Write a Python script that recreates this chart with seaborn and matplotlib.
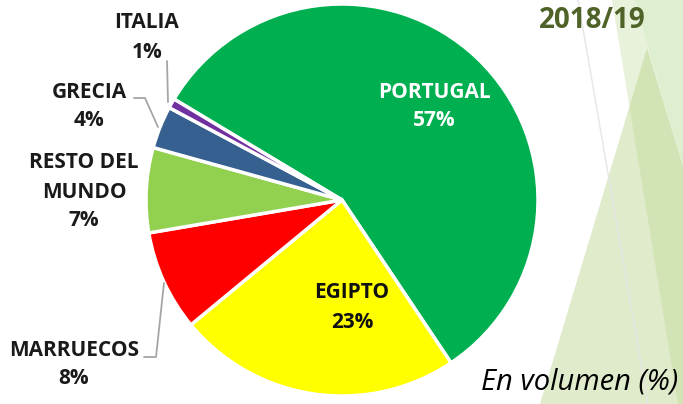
import seaborn as sns
import matplotlib.pyplot as plt
from matplotlib.patches import Polygon

# data (volume share, %)
countries = ["PORTUGAL", "EGIPTO", "MARRUECOS", "RESTO DEL\nMUNDO", "GRECIA", "ITALIA"]
shares = [57.0, 23.4, 8.3, 7.0, 3.5, 0.8]
colors = ["#00B050", "#FFFF00", "#FF0000", "#92D050", "#35608F", "#7030A0"]

sns.set_theme(style="white")
plt.rcParams["font.family"] = ["Open Sans", "DejaVu Sans"]

W, H = 683, 404
fig = plt.figure(figsize=(W / 100, H / 100), dpi=100)
fig.patch.set_facecolor("white")


def fxy(x, y):
    return (x / W, 1 - y / H)


# decorative facets on the right
bg = [
    ([(612, 0), (683, 0), (683, 404), (678, 404)], "#b4d48a", 0.30),
    ([(635, 0), (683, 0), (683, 167)], "#c4eab4", 0.30),
    ([(647, 48), (540, 404), (683, 404), (683, 167)], "#b3cf7e", 0.40),
]
for pts, c, a in bg:
    fig.patches.append(Polygon([fxy(*p) for p in pts], closed=True, transform=fig.transFigure,
                               facecolor=c, edgecolor="none", alpha=a, zorder=-2))
fig.lines.append(plt.Line2D([578 / W, 648 / W], [1, 1 - 404 / H], transform=fig.transFigure,
                            color="#e6e6e6", lw=1, zorder=-1))

# pie centred at (342, 200) px, radius 196 px
cx, cy, r = 342, 200, 196
ax = fig.add_axes([(cx - r) / W, 1 - (cy + r) / H, 2 * r / W, 2 * r / H])
wedges, _ = ax.pie(shares, colors=sns.color_palette(colors), startangle=149, counterclock=False,
                   wedgeprops=dict(edgecolor="white", linewidth=2.5))
ax.set_xlim(-1, 1)
ax.set_ylim(-1, 1)
ax.axis("off")


def dxy(x, y):
    return ((x - cx) / r, (cy - y) / r)


# label layout: centre x and first-line y in px, text colour
label_pos = {
    "PORTUGAL": (434, 92, "white"),
    "EGIPTO": (352, 293, "#111111"),
    "MARRUECOS": (74, 350, "#1a1a1a"),
    "RESTO DEL\nMUNDO": (84, 163, "#1a1a1a"),
    "GRECIA": (89, 92, "#1a1a1a"),
    "ITALIA": (147, 23, "#1a1a1a"),
}
for name, v in zip(countries, shares):
    x, y, c = label_pos[name]
    lines = name.split("\n") + [f"{round(v)}%"]
    for i, ln in enumerate(lines):
        ax.text(*dxy(x, y + i * 29), ln, ha="center", va="center", fontsize=15,
                fontweight="bold", color=c, clip_on=False)

leaders = [
    [(167, 61), (168, 102)],
    [(134, 98), (145, 98), (158, 127)],
    [(144, 357), (156, 357), (164, 283)],
]
for pts in leaders:
    xs, ys = zip(*[dxy(*p) for p in pts])
    ax.plot(xs, ys, color="#a6a6a6", lw=1.3, clip_on=False)

fig.text(*fxy(592, 21), "2018/19", ha="center", va="center", fontsize=20,
         fontweight="bold", color="#4F6228")
fig.text(*fxy(580, 382), "En volumen (%)", ha="center", va="center", fontsize=21,
         style="italic", color="black")

fig.savefig("out.png", dpi=100)
